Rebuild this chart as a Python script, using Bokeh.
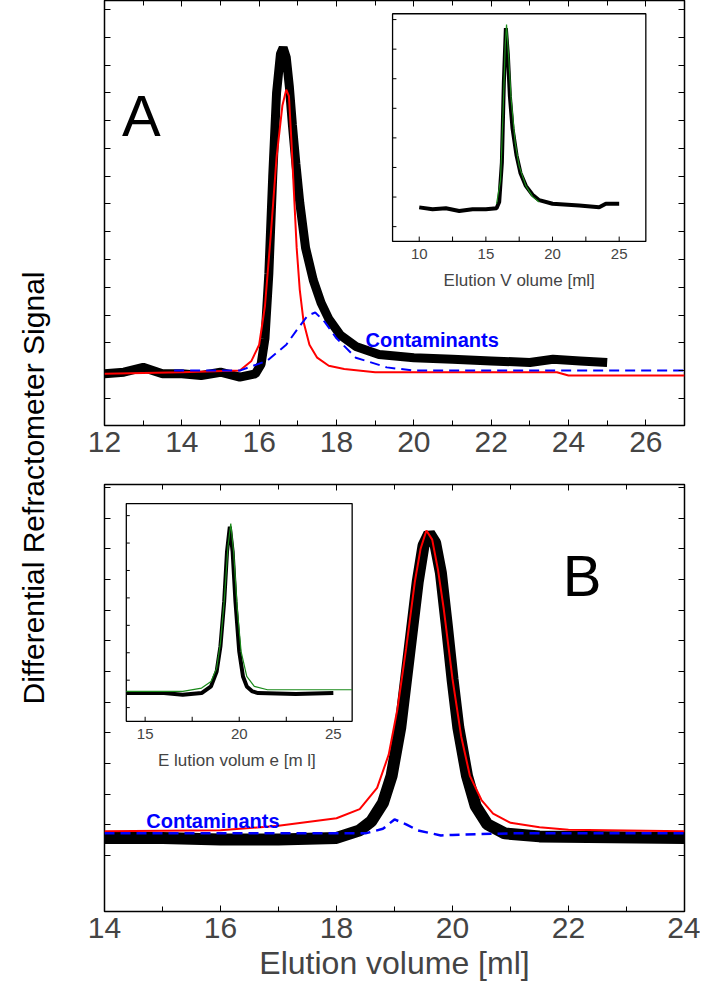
import numpy as np
from bokeh.plotting import figure
from bokeh.layouts import column, row
from bokeh.models import LinearAxis, FixedTicker, Range1d, CustomJSTickFormatter
from bokeh.core.properties import value
from bokeh.embed import file_html
from bokeh.resources import INLINE

FONT = "Liberation Sans"

# ---- Panel A (main) ----
a_black_x = [12.0, 12.5, 13.0, 13.5, 14.0, 14.5, 15.0, 15.5, 15.9, 16.05, 16.15, 16.25, 16.35, 16.45, 16.55, 16.62, 16.7,
             16.78, 16.86, 16.95, 17.05, 17.2, 17.4, 17.6, 17.8, 18.1, 18.5, 19.1, 20.0, 21.0, 22.0, 23.0, 23.6, 24.3, 25.0]
a_black_y = [-0.01, -0.005, 0.01, -0.01, -0.01, -0.015, -0.005, -0.02, -0.01, 0.02, 0.1, 0.3, 0.6, 0.86, 0.98, 1.0, 0.97,
             0.88, 0.76, 0.64, 0.52, 0.38, 0.28, 0.21, 0.16, 0.11, 0.075, 0.05, 0.04, 0.035, 0.03, 0.025, 0.035, 0.03, 0.025]
a_red_x = [12.0, 14.0, 15.5, 15.8, 16.0, 16.15, 16.3, 16.45, 16.6, 16.7, 16.77, 16.83, 16.9, 16.97, 17.05, 17.15, 17.3,
           17.5, 17.8, 18.2, 19.0, 21.0, 23.7, 24.0, 27.0]
a_red_y = [-0.01, -0.005, 0.0, 0.03, 0.08, 0.2, 0.42, 0.66, 0.82, 0.87, 0.85, 0.72, 0.55, 0.38, 0.25, 0.15, 0.08,
           0.04, 0.015, 0.005, -0.005, -0.005, -0.005, -0.015, -0.015]
a_blue_x = [13.8, 15.5, 16.2, 16.7, 17.0, 17.25, 17.45, 17.7, 18.0, 18.5, 19.3, 20.0, 23.0, 27.0]
a_blue_y = [0.0, 0.0, 0.03, 0.08, 0.13, 0.17, 0.18, 0.15, 0.1, 0.04, 0.01, 0.0, 0.0, 0.0]

# ---- Panel A (inset) ----
ai_black_x = [10, 11, 12, 13, 14, 15, 15.8, 16.0, 16.2, 16.35, 16.5, 16.65, 16.8, 17.0, 17.3, 17.6, 18.0, 18.5, 19.0, 20.0,
              22.0, 23.5, 24.0, 25.0]
ai_black_y = [0.0, -0.01, -0.005, -0.02, -0.01, -0.01, -0.005, 0.03, 0.25, 0.7, 1.0, 0.85, 0.62, 0.44, 0.29, 0.19, 0.12,
              0.07, 0.04, 0.02, 0.01, 0.0, 0.02, 0.02]
ai_green_x = [15.8, 16.1, 16.3, 16.45, 16.55, 16.7, 16.9, 17.2, 17.5, 18.0, 18.5, 19.0]
ai_green_y = [0.02, 0.15, 0.55, 0.9, 1.02, 0.85, 0.6, 0.36, 0.23, 0.12, 0.06, 0.03]

# ---- Panel B (main) ----
b_black_x = [14.0, 15.0, 16.0, 17.0, 18.0, 18.4, 18.6, 18.8, 18.95, 19.1, 19.25, 19.4, 19.5, 19.6, 19.7, 19.8, 19.9, 20.0,
             20.1, 20.25, 20.4, 20.6, 20.9, 21.5, 24.0]
b_black_y = [-0.005, -0.005, -0.01, -0.01, -0.005, 0.02, 0.05, 0.11, 0.2, 0.36, 0.6, 0.84, 0.96, 1.0, 0.97, 0.87, 0.7, 0.52,
             0.36, 0.2, 0.1, 0.04, 0.01, 0.0, -0.005]
b_red_x = [14.0, 16.0, 17.0, 18.0, 18.4, 18.7, 18.9, 19.05, 19.2, 19.35, 19.45, 19.55, 19.65, 19.75, 19.85, 20.0, 20.15,
           20.3, 20.5, 20.7, 21.0, 21.5, 22.0, 24.0]
b_red_y = [0.017, 0.02, 0.035, 0.06, 0.09, 0.16, 0.27, 0.42, 0.62, 0.84, 0.95, 1.01, 0.98, 0.88, 0.75, 0.52, 0.33,
           0.2, 0.12, 0.075, 0.045, 0.03, 0.022, 0.017]
b_blue_x = [14.0, 18.5, 18.8, 19.0, 19.2, 19.4, 19.8, 20.0, 21.0, 24.0]
b_blue_y = [0.01, 0.01, 0.025, 0.056, 0.04, 0.02, 0.003, 0.005, 0.01, 0.01]

# ---- Panel B (inset) ----
bi_black_x = [14.0, 16.0, 17.0, 18.0, 18.5, 18.8, 19.0, 19.2, 19.35, 19.5, 19.65, 19.8, 20.0, 20.2, 20.4, 20.7, 21.0, 23.0, 25.0]
bi_black_y = [0.0, 0.0, -0.01, 0.0, 0.04, 0.13, 0.28, 0.55, 0.85, 1.0, 0.85, 0.55, 0.25, 0.1, 0.04, 0.01, 0.0, -0.005, 0.0]
bi_green_x = [14.0, 17.0, 18.0, 18.5, 18.8, 19.0, 19.2, 19.4, 19.55, 19.7, 19.9, 20.1, 20.4, 20.8, 21.5, 26.0]
bi_green_y = [0.01, 0.01, 0.03, 0.07, 0.15, 0.3, 0.55, 0.88, 1.02, 0.85, 0.5, 0.25, 0.1, 0.04, 0.02, 0.02]

inset_a_ticks = [10, 15, 20, 25]
inset_b_ticks = [15, 20, 25]

BLANK = CustomJSTickFormatter(code="return ''")


def to_box(xs, ys, xr, yr, box):
    x0, x1, y0, y1 = box
    bx = [x0 + (x - xr[0]) / (xr[1] - xr[0]) * (x1 - x0) for x in xs]
    by = [y0 + (y - yr[0]) / (yr[1] - yr[0]) * (y1 - y0) for y in ys]
    return bx, by


def main_fig(xr, yr, ticks_y, fh, top):
    p = figure(frame_width=580, frame_height=fh, x_range=Range1d(*xr), y_range=Range1d(*yr),
               output_backend="svg", toolbar_location=None, min_border_left=18, min_border_right=16,
               min_border_top=top, min_border_bottom=0, outline_line_color="black", outline_line_width=1.5)
    p.grid.visible = False
    p.yaxis.visible = False
    xa = p.below[0]
    xa.ticker.desired_num_ticks = 8
    xa.ticker.num_minor_ticks = 2
    xa.major_tick_in = 6
    xa.major_tick_out = 0
    xa.minor_tick_in = 5
    xa.minor_tick_out = 0
    xa.axis_line_color = None
    xa.major_label_text_font = FONT
    xa.major_label_text_font_size = "30px"
    xa.major_label_standoff = 6
    for side in ["left", "right"]:
        ax = LinearAxis(ticker=FixedTicker(ticks=ticks_y), formatter=BLANK)
        ax.major_tick_in = 6
        ax.major_tick_out = 0
        ax.major_label_standoff = 0
        ax.axis_line_color = None
        p.add_layout(ax, side)
    ax = LinearAxis(ticker=xa.ticker, formatter=BLANK)
    ax.major_tick_in = 6
    ax.major_tick_out = 0
    ax.minor_tick_in = 5
    ax.minor_tick_out = 0
    ax.major_label_standoff = 0
    ax.axis_line_color = None
    p.add_layout(ax, "above")
    return p, xa


def draw_inset(p, box, xr, yr, black, green, ticks, minor_step, label, ylen, xlen, ystep):
    x0, x1, y0, y1 = box
    p.quad(left=x0, right=x1, bottom=y0, top=y1, fill_color="white", line_color="black", line_width=1.3)
    bx, by = to_box(black[0], black[1], xr, yr, box)
    p.line(bx, by, color="black", line_width=4)
    gx, gy = to_box(green[0], green[1], xr, yr, box)
    p.line(gx, gy, color="#1a8a1a", line_width=1.2)
    allt = list(np.arange(ticks[0], xr[1], minor_step))
    tx, _ = to_box(allt, [0] * len(allt), xr, yr, box)
    p.segment(x0=tx, y0=[y0] * len(tx), x1=tx, y1=[y0 + ylen] * len(tx), color="black", line_width=1)
    yt = list(np.arange(yr[0] + ystep / 2, yr[1], ystep))
    _, ty = to_box([0] * len(yt), yt, xr, yr, box)
    p.segment(x0=[x0] * len(ty), y0=ty, x1=[x0 + xlen] * len(ty), y1=ty, color="black", line_width=1)
    lx, _ = to_box(ticks, [0] * len(ticks), xr, yr, box)
    p.text(x=lx, y=[y0] * len(lx), text=[str(t) for t in ticks], text_font=value(FONT), text_font_size="15px",
           text_color="#444444", text_align="center", text_baseline="top", y_offset=8)
    p.text(x=[(x0 + x1) / 2], y=[y0], text=[label], text_font=value(FONT), text_font_size="17px",
           text_color="#444444", text_align="center", text_baseline="top", y_offset=30)


# Panel A
ya = (-0.17, 1.146)
pa, xa_a = main_fig((12, 27), ya, list(np.arange(-0.086 * 2, 1.15, 0.086)), 425, 0)
pa.line(a_black_x, a_black_y, color="black", line_width=9)
pa.line(a_red_x, a_red_y, color="red", line_width=2)
pa.line(a_blue_x, a_blue_y, color="blue", line_width=2, line_dash="10 6")
pa.text(x=[12.45], y=[0.79], text=["A"], text_font=value(FONT), text_font_size="58px", text_baseline="alphabetic")
pa.text(x=[18.75], y=[0.095], text=["Contaminants"], text_font=value(FONT), text_font_size="20px",
        text_font_style="bold", text_color="blue", text_baseline="alphabetic")
draw_inset(pa, (19.45, 26.0, 0.40, 1.105), (8, 27), (-0.19, 1.08), (ai_black_x, ai_black_y),
           (ai_green_x, ai_green_y), inset_a_ticks, 2.5, "Elution V olume [ml]", 0.015, 0.1, 0.165)

# Panel B
yb = (-0.248, 1.162)
pb, xa_b = main_fig((14, 24), yb, list(np.arange(-0.063, 1.17, 0.1013)), 427, 30)
xa_b.ticker.desired_num_ticks = 6
pb.line(b_black_x, b_black_y, color="black", line_width=12)
pb.line(b_red_x, b_red_y, color="red", line_width=2)
pb.line(b_blue_x, b_blue_y, color="blue", line_width=2.5, line_dash="10 6")
pb.text(x=[21.9], y=[0.86], text=["B"], text_font=value(FONT), text_font_size="58px", text_baseline="alphabetic")
pb.text(x=[14.72], y=[0.05], text=["Contaminants"], text_font=value(FONT), text_font_size="20px",
        text_font_style="bold", text_color="blue", text_baseline="alphabetic")
draw_inset(pb, (14.376, 18.27, 0.38, 1.099), (14, 26), (-0.17, 1.14), (bi_black_x, bi_black_y),
           (bi_green_x, bi_green_y), inset_b_ticks, 2.5, "E lution  volum e [m l]", 0.015, 0.06, 0.165)
xa_b.axis_label = "Elution volume [ml]"
xa_b.axis_label_text_font = FONT
xa_b.axis_label_text_font_size = "32px"
xa_b.axis_label_text_font_style = "normal"
xa_b.axis_label_standoff = 4

# shared y label
pl = figure(width=86, height=975, x_range=(0, 1), y_range=(0, 1), output_backend="svg", toolbar_location=None,
            min_border=0, outline_line_color=None)
pl.axis.visible = False
pl.grid.visible = False
pl.text(x=[0.38], y=[0.5], text=["Differential Refractometer Signal"], angle=np.pi / 2, text_font=value(FONT),
        text_font_size="30px", text_align="center", text_baseline="middle")

layout = row(pl, column(pa, pb, spacing=0), spacing=0)
open("out.html", "w").write(file_html(layout, INLINE))
